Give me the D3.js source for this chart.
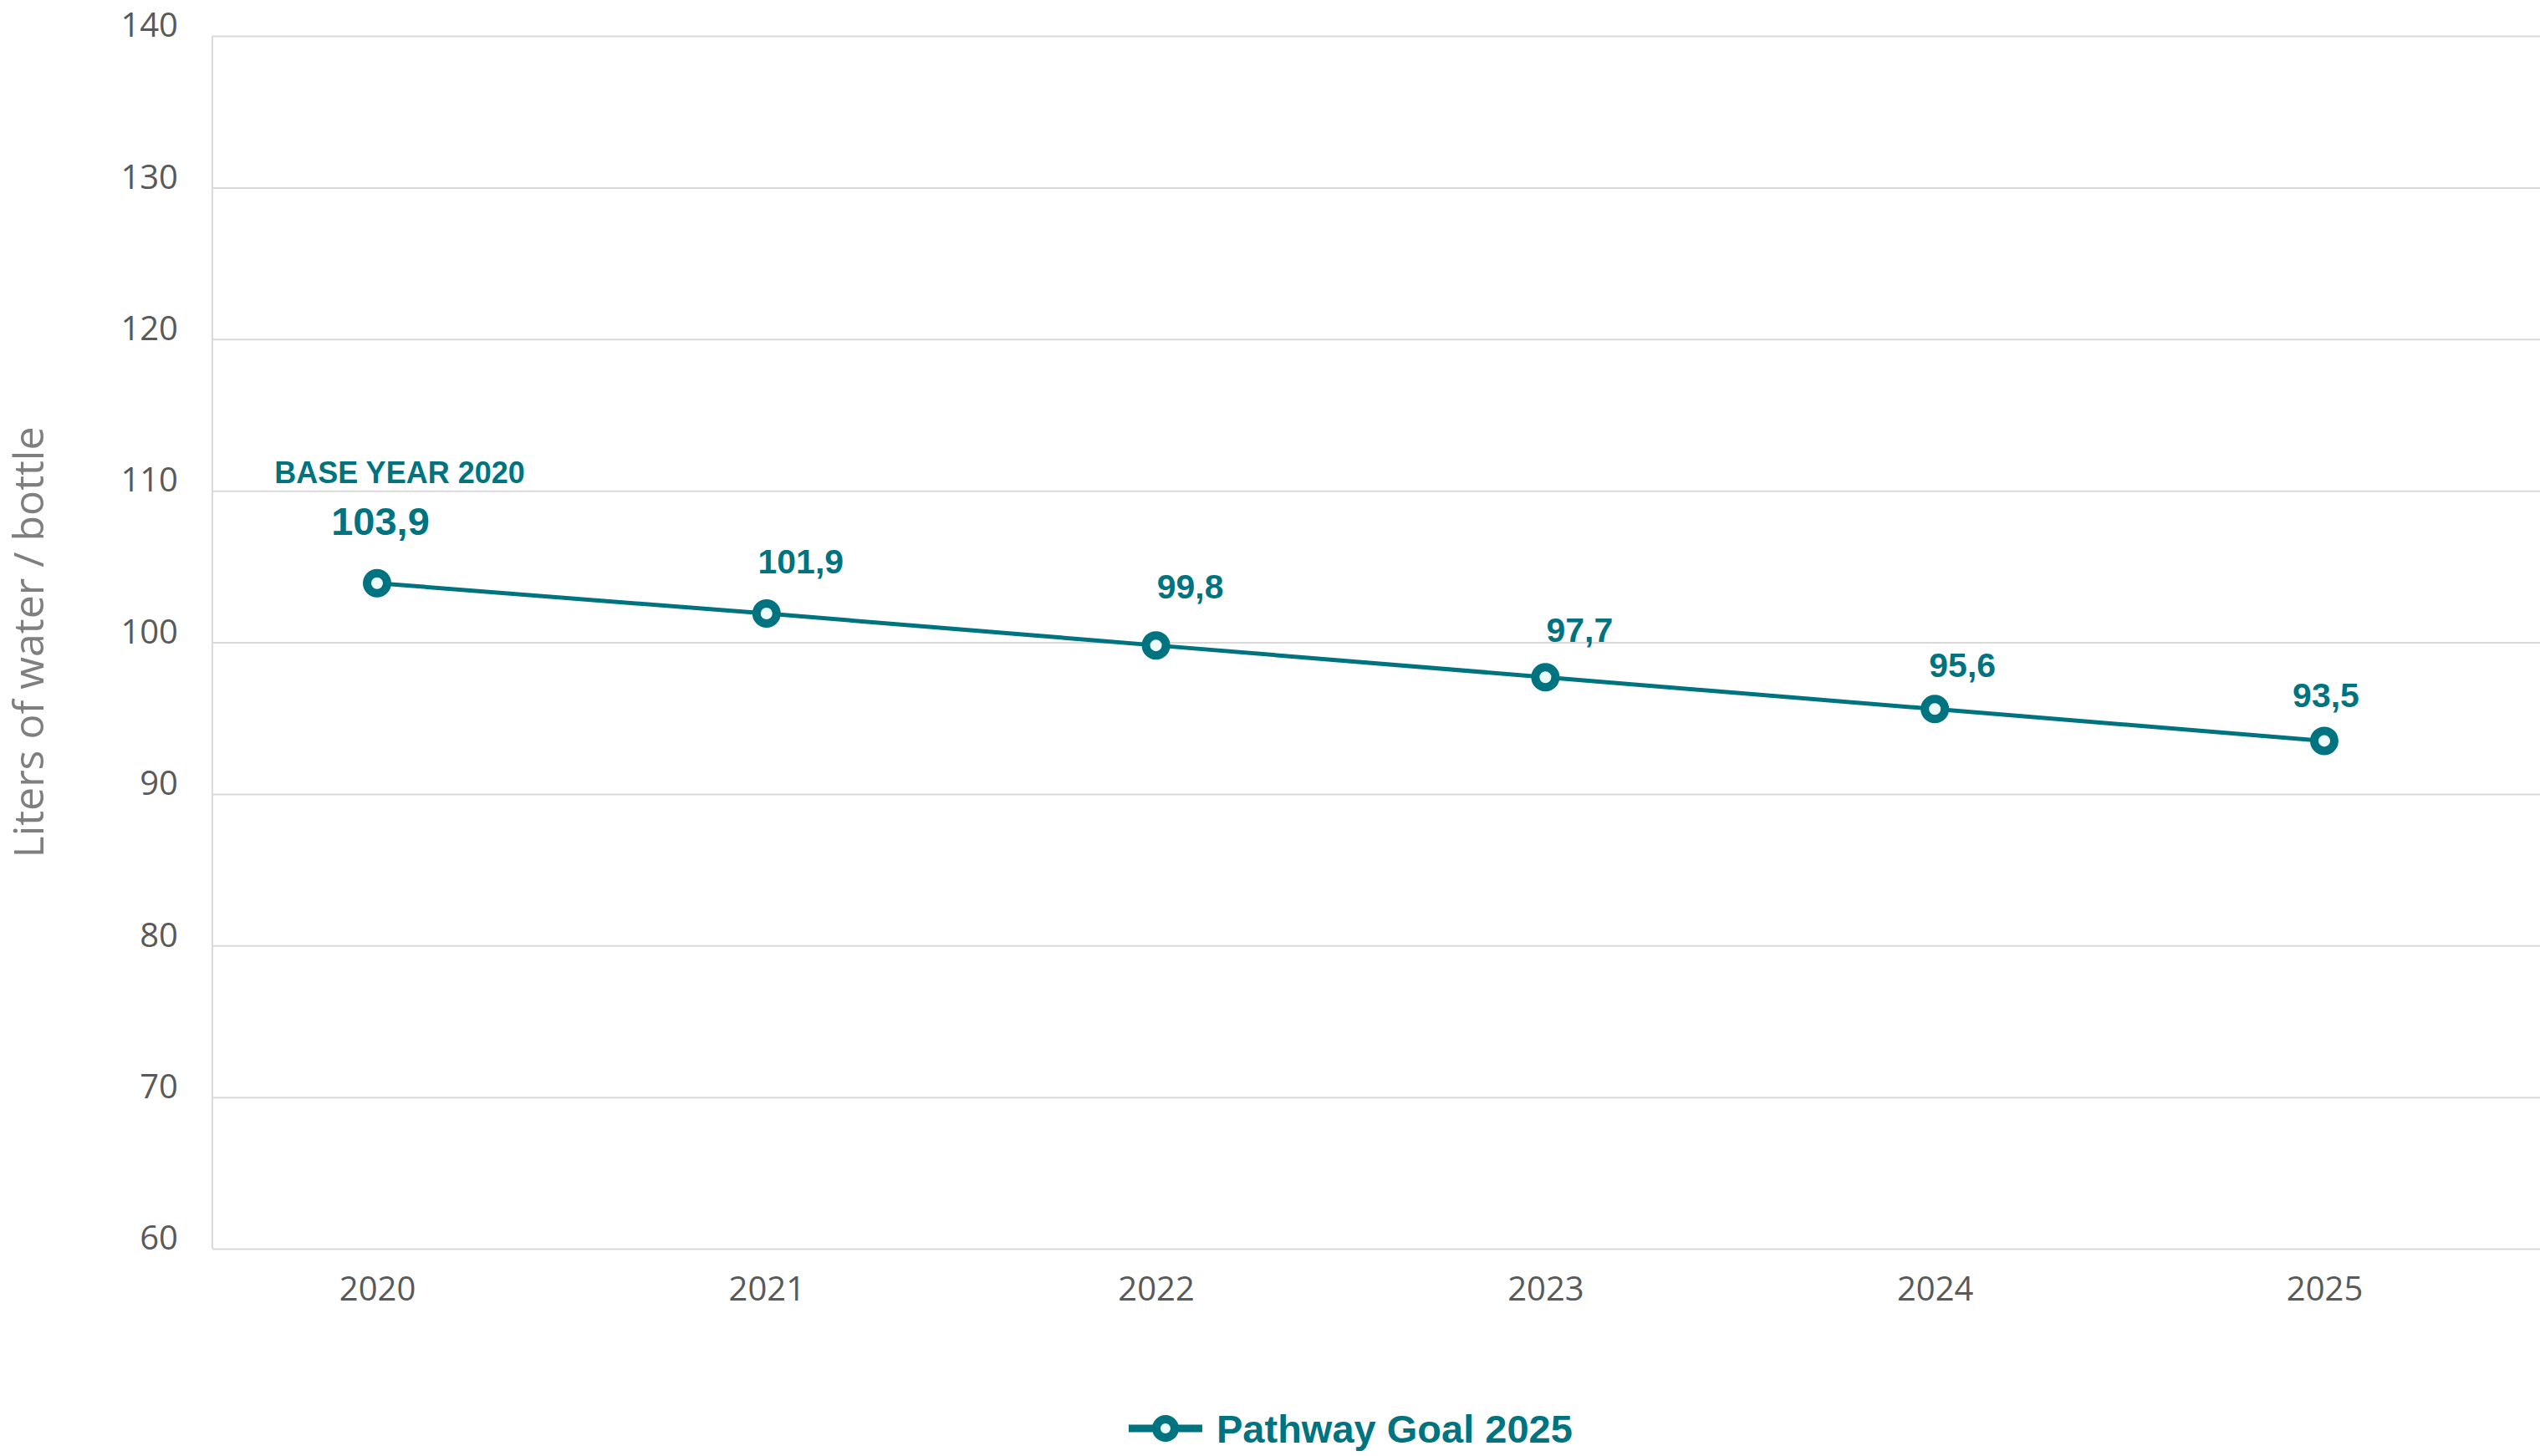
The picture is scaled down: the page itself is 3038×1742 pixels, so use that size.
<!DOCTYPE html>
<html>
<head>
<meta charset="utf-8">
<script src="https://cdn.jsdelivr.net/npm/d3@7"></script>
<style>
  body { margin: 0; background: #fff; }
  svg { display: block; }
</style>
</head>
<body>
<script>
// data
const years = ["2020", "2021", "2022", "2023", "2024", "2025"];
const pathwayGoal = [103.9, 101.9, 99.8, 97.7, 95.6, 93.5];
const valueLabels = ["103,9", "101,9", "99,8", "97,7", "95,6", "93,5"];
const yTicks = [60, 70, 80, 90, 100, 110, 120, 130, 140];
const seriesName = "Pathway Goal 2025";
const baseNote = "BASE YEAR 2020";
const yTitle = "Liters of water / bottle";

// where each value label sits relative to its point (px)
const labelShift = [[4, -74], [41, -62], [41, -70], [41, -56], [33, -52], [2, -54]];

const W = 3038, H = 1742;
const teal = "#007380";
const plotLeft = 254, plotTop = 43, plotBottom = 1494;

const svg = d3.select("body").append("svg")
    .attr("width", W)
    .attr("height", H);

const x = d3.scalePoint().domain(years).range([451, 2780]);
const y = d3.scaleLinear().domain([60, 140]).range([plotBottom, plotTop]);

// gridlines + y labels
const yAxis = svg.append("g")
    .attr("transform", `translate(${plotLeft},0)`)
    .call(d3.axisLeft(y).tickValues(yTicks).tickSizeInner(-(W - plotLeft)).tickSizeOuter(0).tickPadding(41));
yAxis.select(".domain").remove();
yAxis.selectAll(".tick line").attr("stroke", "#d9d9d9").attr("stroke-width", 2);
yAxis.selectAll(".tick text")
    .attr("dy", "0.02em")
    .attr("fill", "#595959")
    .style("font-family", "'Open Sans', sans-serif")
    .style("font-size", "40px");

// left frame line
svg.append("line")
    .attr("x1", plotLeft).attr("x2", plotLeft)
    .attr("y1", y(140)).attr("y2", y(60))
    .attr("stroke", "#d9d9d9").attr("stroke-width", 2);

// x labels
const xAxis = svg.append("g")
    .attr("transform", `translate(0,${plotBottom})`)
    .call(d3.axisBottom(x).tickSize(0).tickPadding(34));
xAxis.select(".domain").remove();
xAxis.selectAll(".tick text")
    .attr("fill", "#595959")
    .style("font-family", "'Open Sans', sans-serif")
    .style("font-size", "40px");

// y title
svg.append("text")
    .attr("transform", `translate(52,${(plotTop + plotBottom) / 2}) rotate(-90)`)
    .attr("text-anchor", "middle")
    .attr("fill", "#7f7f7f")
    .style("font-family", "'Open Sans', sans-serif")
    .style("font-size", "50px")
    .text(yTitle);

// line
const line = d3.line()
    .x((d, i) => x(years[i]))
    .y(d => y(d));

svg.append("path")
    .datum(pathwayGoal)
    .attr("d", line)
    .attr("fill", "none")
    .attr("stroke", teal)
    .attr("stroke-width", 5);

svg.selectAll("circle.pt").data(pathwayGoal)
  .enter()
    .append("circle")
    .attr("class", "pt")
    .attr("cx", (d, i) => x(years[i]))
    .attr("cy", d => y(d))
    .attr("r", 12)
    .attr("fill", "#eafcfc")
    .attr("stroke", teal)
    .attr("stroke-width", 10);

// value labels
svg.selectAll("text.val").data(pathwayGoal)
  .enter()
    .append("text")
    .attr("class", "val")
    .attr("x", (d, i) => x(years[i]) + labelShift[i][0])
    .attr("y", (d, i) => y(d) + labelShift[i][1])
    .attr("text-anchor", "middle")
    .attr("dominant-baseline", "central")
    .attr("fill", teal)
    .style("font-family", "'Liberation Sans', Arial, sans-serif")
    .style("font-weight", "bold")
    .style("font-size", (d, i) => i === 0 ? "47px" : "41px")
    .text((d, i) => valueLabels[i]);

svg.append("text")
    .attr("x", x(years[0]) + 27)
    .attr("y", y(pathwayGoal[0]) - 132)
    .attr("text-anchor", "middle")
    .attr("dominant-baseline", "central")
    .attr("fill", teal)
    .style("font-family", "'Liberation Sans', Arial, sans-serif")
    .style("font-weight", "bold")
    .style("font-size", "36px")
    .text(baseNote);

// legend
const lg = svg.append("g").attr("transform", "translate(1350,1709)");
lg.append("line")
    .attr("x1", 0).attr("x2", 88)
    .attr("stroke", teal).attr("stroke-width", 9);
lg.append("circle")
    .attr("cx", 44).attr("r", 11)
    .attr("fill", "#eafcfc")
    .attr("stroke", teal).attr("stroke-width", 10);
lg.append("text")
    .attr("x", 105)
    .attr("dominant-baseline", "central")
    .attr("fill", teal)
    .style("font-family", "'Liberation Sans', Arial, sans-serif")
    .style("font-weight", "bold")
    .style("font-size", "47px")
    .text(seriesName);
</script>
</body>
</html>
